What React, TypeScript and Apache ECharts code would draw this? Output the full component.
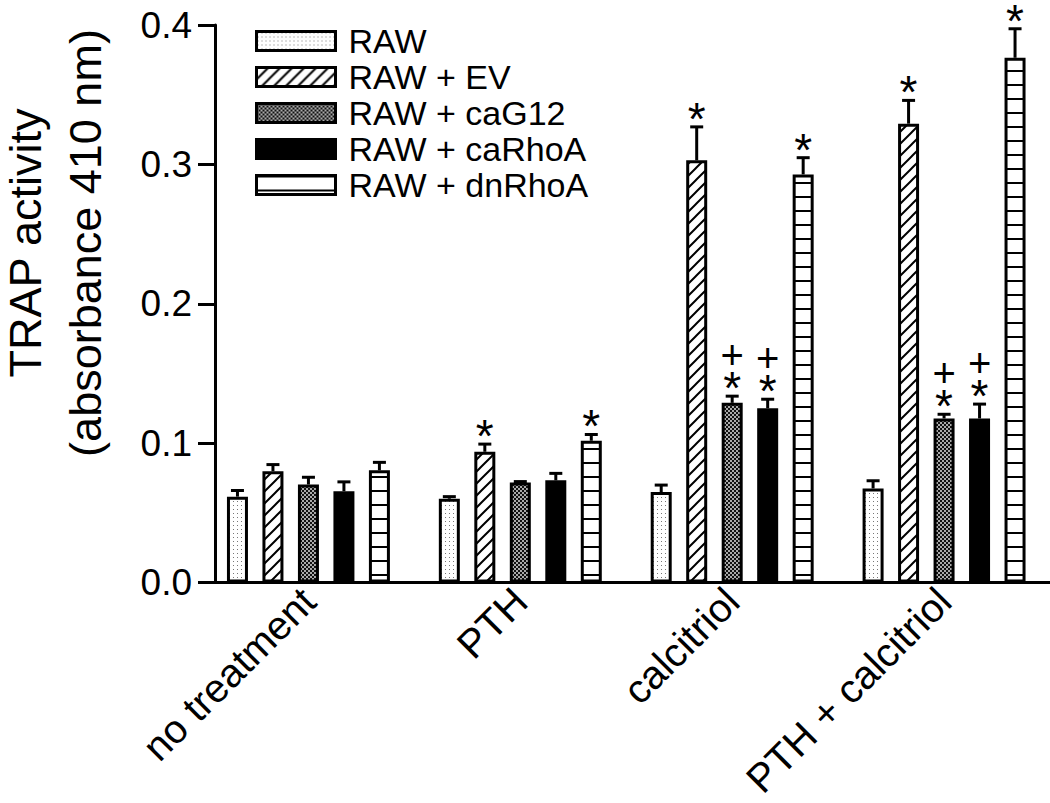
import React, { useEffect, useRef } from "react";
import * as echarts from "echarts";

const categories = ["no treatment", "PTH", "calcitriol", "PTH + calcitriol"];
const seriesNames = ["RAW", "RAW + EV", "RAW + caG12", "RAW + caRhoA", "RAW + dnRhoA"];

const rawValues = [0.0616, 0.0601, 0.0649, 0.0675];
const rawErrors = [0.0044, 0.0015, 0.005, 0.0055];
const evValues = [0.0798, 0.0938, 0.3029, 0.3292];
const evErrors = [0.0048, 0.0055, 0.024, 0.0167];
const caG12Values = [0.0703, 0.0718, 0.1289, 0.1177];
const caG12Errors = [0.0052, 0.0006, 0.0048, 0.003];
const caRhoAValues = [0.0655, 0.0733, 0.125, 0.1177];
const caRhoAErrors = [0.0067, 0.005, 0.0065, 0.0103];
const dnRhoAValues = [0.0805, 0.1017, 0.2928, 0.3765];
const dnRhoAErrors = [0.0057, 0.0045, 0.012, 0.0208];

const rawMarks = ["", "", "", ""];
const evMarks = ["", "*", "*", "*"];
const caG12Marks = ["", "", "+*", "+*"];
const caRhoAMarks = ["", "", "+*", "+*"];
const dnRhoAMarks = ["", "*", "*", "*"];

const yAxisTitle = ["TRAP activity", "(absorbance 410 nm)"];

const FONT = '"Liberation Sans", Arial, Helvetica, sans-serif';
const BAR_W = 21;
const BAR_GAP = 0.69;
const PITCH = BAR_W * (1 + BAR_GAP);

function makeTile(w: number, h: number, draw: (ctx: CanvasRenderingContext2D) => void) {
  const c = document.createElement("canvas");
  c.width = w;
  c.height = h;
  const ctx = c.getContext("2d")!;
  ctx.fillStyle = "#fff";
  ctx.fillRect(0, 0, w, h);
  draw(ctx);
  return c;
}

function makePatterns() {
  const dots = makeTile(4, 4, (ctx) => {
    ctx.fillStyle = "#777";
    ctx.fillRect(1, 1, 1, 1);
  });
  const diag = makeTile(12, 12, (ctx) => {
    ctx.strokeStyle = "#000";
    ctx.lineWidth = 2;
    ctx.beginPath();
    ctx.moveTo(-2, 14);
    ctx.lineTo(14, -2);
    ctx.moveTo(-8, 8);
    ctx.lineTo(8, -8);
    ctx.moveTo(4, 20);
    ctx.lineTo(20, 4);
    ctx.stroke();
  });
  const checker = makeTile(4, 4, (ctx) => {
    ctx.fillStyle = "#111";
    ctx.fillRect(0, 0, 2, 2);
    ctx.fillRect(2, 2, 2, 2);
    ctx.fillStyle = "#aaa";
    ctx.fillRect(2, 0, 2, 2);
    ctx.fillRect(0, 2, 2, 2);
  });
  const horiz = makeTile(4, 14, (ctx) => {
    ctx.fillStyle = "#000";
    ctx.fillRect(0, 0, 4, 2);
  });
  return [
    { image: dots, repeat: "repeat" },
    { image: diag, repeat: "repeat" },
    { image: checker, repeat: "repeat" },
    "#000",
    { image: horiz, repeat: "repeat" },
  ];
}

export default function App() {
  const ref = useRef<HTMLDivElement>(null);
  useEffect(() => {
    if (!ref.current) return;
    const chart = echarts.init(ref.current, undefined, { renderer: "svg" });
    const fills = makePatterns();
    const values = [rawValues, evValues, caG12Values, caRhoAValues, dnRhoAValues];
    const errors = [rawErrors, evErrors, caG12Errors, caRhoAErrors, dnRhoAErrors];
    const marks = [rawMarks, evMarks, caG12Marks, caRhoAMarks, dnRhoAMarks];

    const items: { c: number; s: number; v: number; e: number; m: string }[] = [];
    values.forEach((vals, s) =>
      vals.forEach((v, c) => items.push({ c, s, v, e: errors[s][c], m: marks[s][c] }))
    );

    const barSeries = seriesNames.map((name, s) => ({
      name,
      type: "bar",
      data: values[s],
      barWidth: BAR_W,
      barGap: `${BAR_GAP * 100}%`,
      itemStyle: { color: fills[s], borderColor: "#000", borderWidth: 3 },
      z: 2,
    }));

    const errSeries = {
      type: "custom",
      z: 5,
      data: items.map((it) => [it.c, it.v + it.e]),
      encode: { x: 0, y: 1 },
      renderItem: (params: any, api: any) => {
        const it = items[params.dataIndex];
        const base = api.coord([it.c, it.v]);
        const top = api.coord([it.c, it.v + it.e]);
        const x = base[0] + (it.s - 2) * PITCH;
        const children: any[] = [
          {
            type: "line",
            shape: { x1: x, y1: base[1], x2: x, y2: top[1] },
            style: { stroke: "#000", lineWidth: 3 },
          },
          {
            type: "line",
            shape: { x1: x - 6.5, y1: top[1], x2: x + 6.5, y2: top[1] },
            style: { stroke: "#000", lineWidth: 3 },
          },
        ];
        if (it.m.includes("*")) {
          children.push({
            type: "text",
            x,
            y: top[1] - 8,
            style: {
              text: "*",
              fontSize: 46,
              lineHeight: 14,
              fontFamily: FONT,
              fill: "#000",
              align: "center",
              verticalAlign: "middle",
            },
          });
        }
        if (it.m.includes("+")) {
          children.push({
            type: "text",
            x,
            y: top[1] - 41,
            style: {
              text: "+",
              fontSize: 40,
              lineHeight: 18,
              fontFamily: FONT,
              fill: "#000",
              align: "center",
              verticalAlign: "middle",
            },
          });
        }
        return { type: "group", children };
      },
    };

    chart.setOption({
      animation: false,
      textStyle: { fontFamily: FONT, color: "#000" },
      grid: { left: 202.5, right: -8.5, top: 25, bottom: 220.5, containLabel: false },
      legend: {
        orient: "vertical",
        left: 255,
        top: 24,
        padding: 0,
        itemGap: 2,
        itemWidth: 79,
        itemHeight: 19,
        icon: "rect",
        data: seriesNames,
        itemStyle: { borderWidth: 3, borderColor: "#000" },
        textStyle: { fontSize: 34, lineHeight: 30, color: "#000", fontFamily: FONT, padding: [0, 0, 0, 8] },
        selectedMode: false,
      },
      xAxis: {
        type: "category",
        data: categories,
        axisLine: { show: true, lineStyle: { color: "#000", width: 3 } },
        axisTick: { show: false },
        axisLabel: { rotate: 45, fontSize: 40, color: "#000", margin: 12, fontFamily: FONT },
        splitLine: { show: false },
      },
      yAxis: {
        type: "value",
        min: 0,
        max: 0.4,
        interval: 0.1,
        offset: -12.5,
        axisLine: { show: true, lineStyle: { color: "#000", width: 3 } },
        axisTick: { show: true, length: 17, lineStyle: { color: "#000", width: 3 } },
        axisLabel: {
          fontSize: 37,
          color: "#000",
          margin: 23,
          fontFamily: FONT,
          formatter: (v: number) => v.toFixed(1),
        },
        splitLine: { show: false },
      },
      graphic: [
        {
          type: "text",
          x: 25,
          y: 243,
          rotation: Math.PI / 2,
          style: {
            text: yAxisTitle[0],
            fontSize: 45,
            fontFamily: FONT,
            fill: "#000",
            align: "center",
            verticalAlign: "middle",
          },
        },
        {
          type: "text",
          x: 85,
          y: 243,
          rotation: Math.PI / 2,
          style: {
            text: yAxisTitle[1],
            fontSize: 45,
            fontFamily: FONT,
            fill: "#000",
            align: "center",
            verticalAlign: "middle",
          },
        },
      ],
      series: [...barSeries, errSeries],
    } as any);
    return () => chart.dispose();
  }, []);
  return (
    <div
      ref={ref}
      style={{ position: "fixed", left: 0, top: 0, width: 1050, height: 803, background: "#fff" }}
    />
  );
}
